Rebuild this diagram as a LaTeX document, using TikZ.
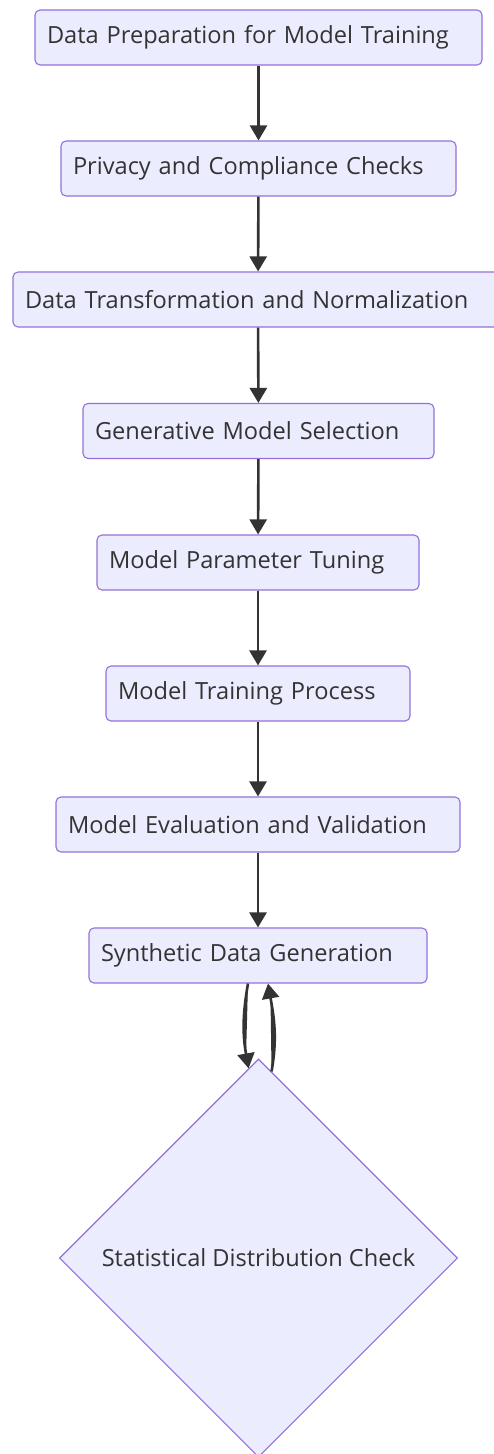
\documentclass[tikz,border=0pt]{standalone}
\usepackage{fontspec}
\setmainfont{Open Sans}
\usetikzlibrary{arrows.meta,shapes.geometric}

\definecolor{boxfill}{HTML}{ECECFF}
\definecolor{boxline}{HTML}{9370DB}
\definecolor{ink}{HTML}{333333}

\begin{document}
\begin{tikzpicture}[x=1pt,y=1pt,>={Triangle[length=15pt,width=17pt]},
  stage/.style={rectangle, rounded corners=5pt, fill=boxfill, draw=boxline, line width=1.1pt,
    minimum height=55pt, inner xsep=12pt, align=left, text=ink, font=\fontsize{23.6}{28}\selectfont},
  check/.style={diamond, fill=boxfill, draw=boxline, line width=1.1pt, inner sep=0pt,
    minimum width=398pt, minimum height=398pt, text=ink, font=\fontsize{23.6}{28}\selectfont},
  flow/.style={->, draw=ink, fill=ink, line width=2.6pt}]

\useasboundingbox (0,0) rectangle (494,-1454);

% the chain of stages
\node[stage, text width=423pt] (prep)       at (258.5,-37.5)  {Data Preparation for Model Training};
\node[stage, text width=371pt] (privacy)    at (258.5,-168.5) {Privacy and Compliance Checks};
\node[stage, text width=466pt] (transform)  at (258,-299.5)   {Data Transformation and Normalization};
\node[stage, text width=327pt] (select)     at (258.5,-431)   {Generative Model Selection};
\node[stage, text width=298pt] (tuning)     at (258,-562.5)   {Model Parameter Tuning};
\node[stage, text width=280pt] (training)   at (258,-693.5)   {Model Training Process};
\node[stage, text width=380pt] (evaluation) at (258,-824.5)   {Model Evaluation and Validation};
\node[stage, text width=314pt] (synth)      at (258,-955.5)   {Synthetic Data Generation};
\node[check] (stats) at (258.5,-1258) {Statistical Distribution Check};

\draw[flow] (prep) -- (privacy);
\draw[flow] (privacy) -- (transform);
\draw[flow] (transform) -- (select);
\draw[flow] (select) -- (tuning);
\draw[flow] (tuning) -- (training);
\draw[flow] (training) -- (evaluation);
\draw[flow] (evaluation) -- (synth);

% loop between generation and check
\draw[flow] ([xshift=-10pt]synth.south) to[out=-100,in=100] (stats.93.4);
\draw[flow] (stats.86.2) to[out=80,in=-80] ([xshift=10pt]synth.south);

\end{tikzpicture}
\end{document}
